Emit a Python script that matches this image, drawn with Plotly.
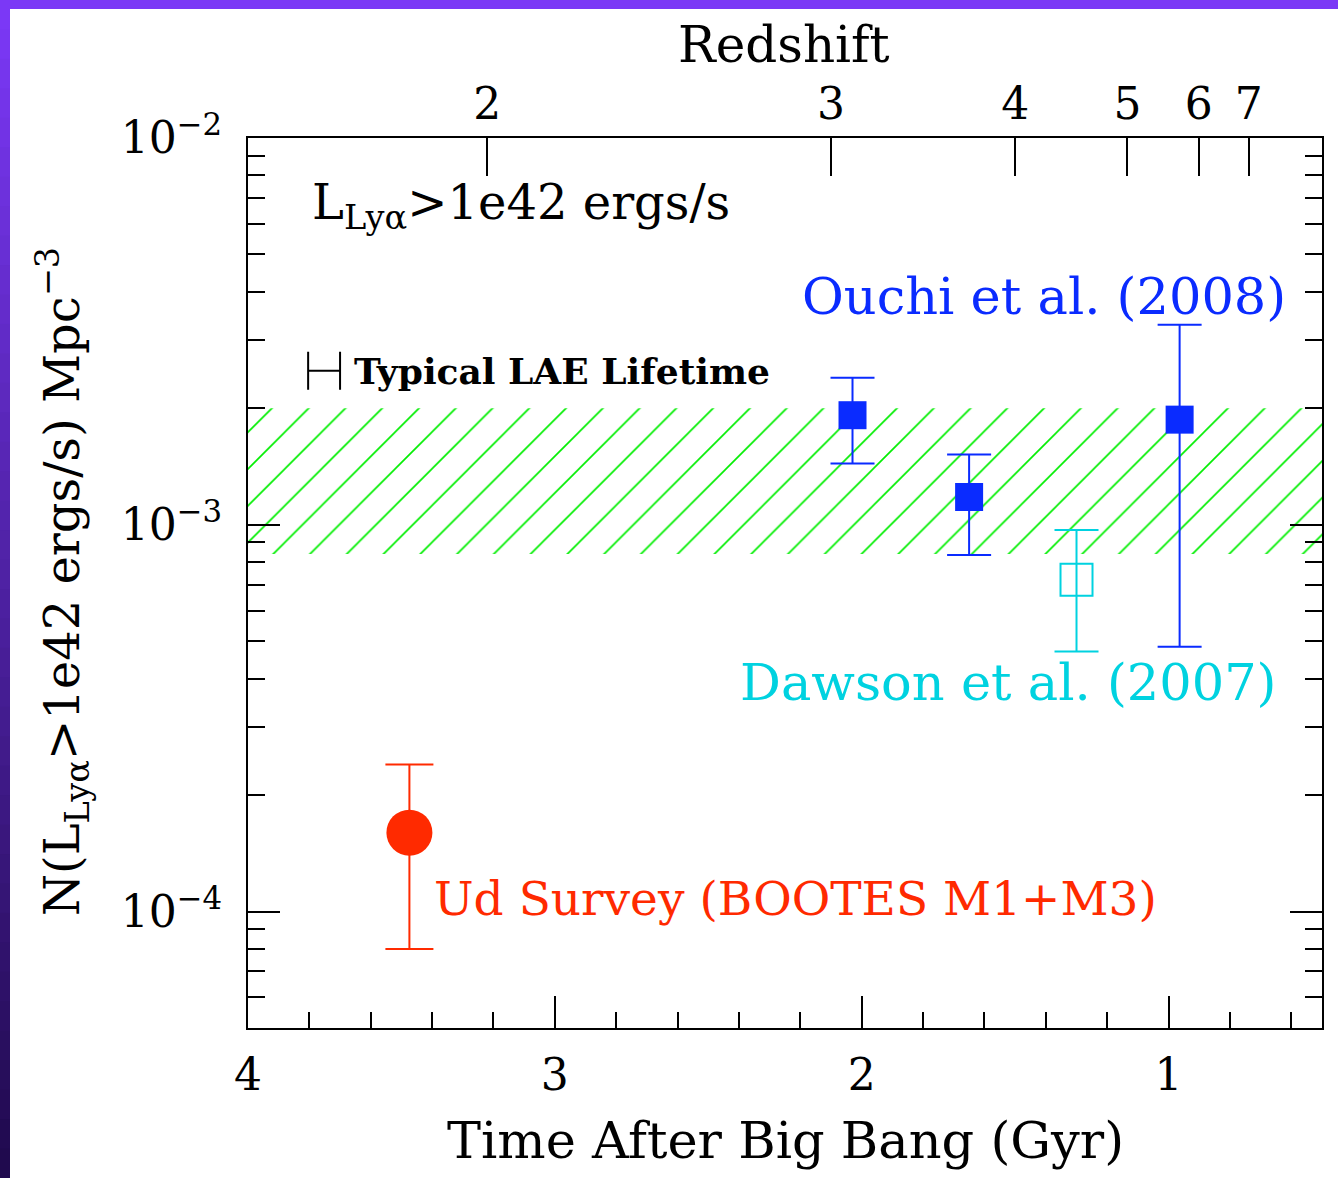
import plotly.graph_objects as go

# ---------------- data ----------------
ouchi_t = [2.03, 1.65, 0.964]
ouchi_n = [1.92e-3, 1.18e-3, 1.87e-3]
ouchi_hi = [2.40e-3, 1.52e-3, 3.29e-3]
ouchi_lo = [1.44e-3, 8.36e-4, 4.84e-4]

dawson_t = [1.30]
dawson_n = [7.21e-4]
dawson_hi = [9.70e-4]
dawson_lo = [4.70e-4]

ud_t = [3.474]
ud_n = [1.60e-4]
ud_hi = [2.40e-4]
ud_lo = [8.0e-5]

band_t = [4.0, 0.5]
band_lo = 8.4e-4
band_hi = 2.0e-3

lifetime_t = [3.752]
lifetime_y = [2.5e-3]
lifetime_half = [0.052]

redshift_labels = ["2", "3", "4", "5", "6", "7"]
redshift_time = [3.22, 2.10, 1.50, 1.134, 0.902, 0.739]

time_ticks = [4, 3, 2, 1]
y_ticks = [1e-4, 1e-3, 1e-2]
y_ticktext = ["10<sup>−4</sup>", "10<sup>−3</sup>", "10<sup>−2</sup>"]

# ---------------- geometry helpers ----------------
W, H = 1338, 1178
L, R, T, B = 248, 16, 138, 150
PW, PH = W - L - R, H - T - B


def px(xp):
    return (xp - L) / PW


def py(yp):
    return (H - B - yp) / PH


FONT = "DejaVu Serif"
BLUE = "#0a2bff"
RED = "#ff2a00"
CYAN = "#00d2e0"
GREEN = "#00ee00"

fig = go.Figure()

# hatched band
fig.add_trace(go.Scatter(
    x=[band_t[0], band_t[1], band_t[1], band_t[0], band_t[0]],
    y=[band_hi, band_hi, band_lo, band_lo, band_hi],
    mode="lines", line=dict(width=0, color="rgba(0,0,0,0)"),
    fill="toself", fillcolor="rgba(0,0,0,0)",
    fillpattern=dict(shape="/", fgcolor=GREEN, bgcolor="rgba(0,0,0,0)",
                     fgopacity=1, size=26, solidity=0.065),
    hoverinfo="skip", showlegend=False))


def err(n, hi, lo):
    return dict(type="data", symmetric=False,
                array=[h - v for h, v in zip(hi, n)],
                arrayminus=[v - l for v, l in zip(n, lo)])


ey = err(ouchi_n, ouchi_hi, ouchi_lo)
ey.update(color=BLUE, thickness=2, width=22)
fig.add_trace(go.Scatter(x=ouchi_t, y=ouchi_n, mode="markers",
                         marker=dict(symbol="square", size=28, color=BLUE, line=dict(width=0)),
                         error_y=ey, showlegend=False))

ey = err(dawson_n, dawson_hi, dawson_lo)
ey.update(color=CYAN, thickness=2, width=22)
fig.add_trace(go.Scatter(x=dawson_t, y=dawson_n, mode="markers",
                         marker=dict(symbol="square-open", size=32, color=CYAN, line=dict(width=2, color=CYAN)),
                         error_y=ey, showlegend=False))

ey = err(ud_n, ud_hi, ud_lo)
ey.update(color=RED, thickness=2, width=24)
fig.add_trace(go.Scatter(x=ud_t, y=ud_n, mode="markers",
                         marker=dict(symbol="circle", size=46, color=RED, line=dict(width=0)),
                         error_y=ey, showlegend=False))

# typical lifetime bar
fig.add_trace(go.Scatter(x=lifetime_t, y=lifetime_y, mode="markers",
                         marker=dict(size=0.1, color="rgba(0,0,0,0)"),
                         error_x=dict(type="data", array=lifetime_half, color="black",
                                      thickness=2, width=19),
                         showlegend=False, hoverinfo="skip"))

# dummy trace for the top redshift axis
fig.add_trace(go.Scatter(x=redshift_time, y=[1e-3] * len(redshift_time), xaxis="x2",
                         mode="markers", marker=dict(size=0.1, color="rgba(0,0,0,0)"),
                         showlegend=False, hoverinfo="skip"))

tickfont = dict(family=FONT, size=44, color="black")

fig.update_layout(
    width=W, height=H,
    margin=dict(l=L, r=R, t=T, b=B, pad=0),
    paper_bgcolor="white", plot_bgcolor="white",
    showlegend=False,
    xaxis=dict(range=[4, 0.5], tickvals=time_ticks, ticktext=[str(v) for v in time_ticks],
               ticks="inside", ticklen=32, tickwidth=2, tickcolor="black",
               showline=True, linecolor="black", linewidth=2, mirror=True,
               showgrid=False, zeroline=False, tickfont=tickfont, ticklabelstandoff=7,
               minor=dict(dtick=0.2, tick0=0, ticks="inside", ticklen=16, tickwidth=2,
                          tickcolor="black", showgrid=False)),
    xaxis2=dict(range=[4, 0.5], overlaying="x", side="top", tickvals=redshift_time,
                ticktext=redshift_labels, ticks="inside", ticklen=38, tickwidth=2,
                tickcolor="black", showline=False, showgrid=False, zeroline=False,
                tickfont=tickfont, ticklabelstandoff=9),
    yaxis=dict(type="log", range=[-4.301, -2], tickvals=y_ticks, ticktext=y_ticktext,
               ticks="inside", ticklen=32, tickwidth=2, tickcolor="black",
               showline=True, linecolor="black", linewidth=2, mirror="ticks",
               showgrid=False, zeroline=False, tickfont=tickfont, ticklabelstandoff=15,
               minor=dict(tickmode="array",
                          tickvals=[m * 10 ** e for e in (-5, -4, -3) for m in range(2, 10)
                                    if 5e-5 < m * 10 ** e < 1e-2],
                          ticks="inside", ticklen=17, tickwidth=2, tickcolor="black",
                          showgrid=False)),
)

ann = []
# axis titles
ann.append(dict(text="Time After Big Bang (Gyr)", x=px(785), y=py(1140), xref="paper", yref="paper",
                xanchor="center", yanchor="middle", showarrow=False,
                font=dict(family=FONT, size=51, color="black")))
ann.append(dict(text="Redshift", x=px(784), y=py(45), xref="paper", yref="paper",
                xanchor="center", yanchor="middle", showarrow=False,
                font=dict(family=FONT, size=50, color="black")))
ann.append(dict(text="N(L<sub>Lyα</sub>>1e42 ergs/s) Mpc<sup>−3</sup>", x=px(62), y=py(582),
                xref="paper", yref="paper", xanchor="center", yanchor="middle",
                textangle=-90, showarrow=False,
                font=dict(family=FONT, size=48, color="black")))
# in-plot labels
ann.append(dict(text="L<sub>Lyα</sub>>1e42 ergs/s", x=px(310), y=py(205), xref="paper", yref="paper",
                xanchor="left", yanchor="middle", showarrow=False,
                font=dict(family=FONT, size=48, color="black")))
ann.append(dict(text="<b>Typical LAE Lifetime</b>", x=px(352), y=py(371), xref="paper", yref="paper",
                xanchor="left", yanchor="middle", showarrow=False,
                font=dict(family=FONT, size=36, color="black")))
ann.append(dict(text="Ouchi et al. (2008)", x=px(800), y=py(297), xref="paper", yref="paper",
                xanchor="left", yanchor="middle", showarrow=False,
                font=dict(family=FONT, size=51, color=BLUE)))
ann.append(dict(text="Dawson et al. (2007)", x=px(738), y=py(682), xref="paper", yref="paper",
                xanchor="left", yanchor="middle", showarrow=False,
                font=dict(family=FONT, size=51, color=CYAN)))
ann.append(dict(text="Ud Survey (BOOTES M1+M3)", x=px(432), y=py(898), xref="paper", yref="paper",
                xanchor="left", yanchor="middle", showarrow=False,
                font=dict(family=FONT, size=47, color=RED)))
fig.update_layout(annotations=ann)

# purple frame (top strip and gradient left strip)
shapes = [dict(type="rect", xref="paper", yref="paper", x0=px(0), x1=px(W), y0=py(9), y1=py(-2),
               fillcolor="rgb(123,56,246)", line=dict(width=0), layer="above")]
nseg = 40
top_c = (123, 56, 246)
bot_c = (32, 10, 78)
for i in range(nseg):
    f = i / (nseg - 1)
    c = tuple(int(round(a + (b - a) * f)) for a, b in zip(top_c, bot_c))
    y0p = i * H / nseg
    y1p = (i + 1) * H / nseg + 1
    shapes.append(dict(type="rect", xref="paper", yref="paper", x0=px(-2), x1=px(10),
                       y0=py(y1p), y1=py(y0p), fillcolor="rgb(%d,%d,%d)" % c,
                       line=dict(width=0), layer="above"))
fig.update_layout(shapes=shapes)

fig.write_html("out.html")
